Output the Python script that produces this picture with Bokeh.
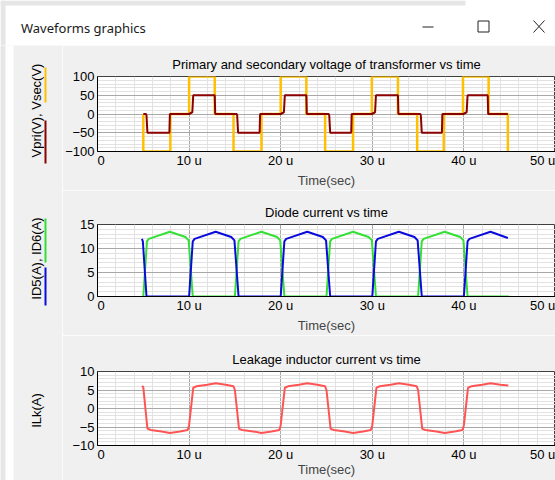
import math
from bokeh.plotting import figure
from bokeh.layouts import column, row
from bokeh.models import FixedTicker, Title
from bokeh.embed import file_html
from bokeh.resources import INLINE
from bokeh.core.properties import value

FONT = "Liberation Sans"
BG = "#f0f0f0"
OUTER = "#e6e6e6"

# ---------------- data (time in microseconds) ----------------
x_grid_ticks = [0, 10, 20, 30, 40, 50]
x_label_pos = [0.4, 10, 20, 30, 40, 48.6]
x_tick_labels = ["0", "10 u", "20 u", "30 u", "40 u", "50 u"]
x_minor = [2, 4, 6, 8, 12, 14, 16, 18, 22, 24, 26, 28, 32, 34, 36, 38, 42, 44, 46, 48]

# Vsec (yellow)
t_vsec = [5.0, 5.0, 7.95, 7.95, 10.0, 10.0, 12.8, 12.8, 14.85, 14.85, 17.9, 17.9,
          20.0, 20.0, 22.8, 22.8, 24.85, 24.85, 27.9, 27.9, 29.95, 29.95, 32.8, 32.8,
          34.9, 34.9, 37.8, 37.8, 39.9, 39.9, 42.7, 42.7, 44.8, 44.8]
v_vsec = [0, -100, -100, 0, 0, 100, 100, 0, 0, -100, -100, 0,
          0, 100, 100, 0, 0, -100, -100, 0, 0, 100, 100, 0,
          0, -100, -100, 0, 0, 100, 100, 0, 0, -100]

# Vpri (dark red)
t_vpri = [5.0, 5.3, 5.35, 5.45, 7.85, 7.9, 10.0, 10.3, 10.35, 10.45, 12.8, 12.85,
          14.85, 15.2, 15.25, 15.35, 17.7, 17.75, 20.0, 20.3, 20.35, 20.45, 22.8, 22.85,
          24.9, 25.25, 25.3, 25.4, 27.7, 27.75, 29.95, 30.25, 30.3, 30.4, 32.8, 32.85,
          34.9, 35.25, 35.3, 35.4, 37.6, 37.65, 39.95, 40.25, 40.3, 40.4, 42.6, 42.65, 44.8]
v_vpri = [0, 0, -4, -50, -50, 0, 0, 4, 4, 50, 50, 0,
          0, 0, -4, -50, -50, 0, 0, 4, 4, 50, 50, 0,
          0, 0, -4, -50, -50, 0, 0, 4, 4, 50, 50, 0,
          0, 0, -4, -50, -50, 0, 0, 4, 4, 50, 50, 0, 0]

# ID6 (green)
t_id6 = [5.0, 5.4, 5.6, 7.9, 9.6, 9.95, 10.4, 15.0, 15.4, 15.6, 17.9, 19.6, 19.95, 20.4,
         25.0, 25.4, 25.6, 27.9, 29.6, 29.95, 30.4, 35.0, 35.4, 35.6, 37.9, 39.6, 39.95, 40.4, 44.9]
v_id6 = [0, 11.5, 12.0, 13.5, 12.4, 11.7, 0, 0, 11.5, 12.0, 13.5, 12.4, 11.7, 0,
         0, 11.5, 12.0, 13.5, 12.4, 11.7, 0, 0, 11.5, 12.0, 13.5, 12.4, 11.7, 0, 0]

# ID5 (blue)
t_id5 = [4.85, 4.95, 5.35, 10.0, 10.4, 10.6, 12.9, 14.6, 14.95, 15.4, 20.0, 20.4, 20.6, 22.9,
         24.6, 24.95, 25.4, 30.0, 30.4, 30.6, 32.9, 34.6, 34.95, 35.4, 40.0, 40.4, 40.6, 42.9, 44.8]
v_id5 = [12.0, 11.5, 0, 0, 11.5, 12.0, 13.5, 12.4, 11.7, 0, 0, 11.5, 12.0, 13.5,
         12.4, 11.7, 0, 0, 11.5, 12.0, 13.5, 12.4, 11.7, 0, 0, 11.5, 12.0, 13.5, 12.2]

# ILk (light red)
t_ilk = [4.85, 5.0, 5.45, 5.8, 7.0, 7.9, 9.0, 9.85, 10.0, 10.45, 10.8, 12.0, 12.9, 14.0, 14.85, 15.0,
         15.45, 15.8, 17.0, 17.9, 19.0, 19.85, 20.0, 20.45, 20.8, 22.0, 22.9, 24.0, 24.85, 25.0,
         25.45, 25.8, 27.0, 27.9, 29.0, 29.85, 30.0, 30.45, 30.8, 32.0, 32.9, 34.0, 34.85, 35.0,
         35.45, 35.8, 37.0, 37.9, 39.0, 39.85, 40.0, 40.45, 40.8, 42.0, 42.9, 44.0, 44.85]
v_ilk = [6.1, 5.8, -5.4, -5.8, -6.2, -6.6, -6.2, -5.8, -4.5, 5.6, 6.0, 6.4, 6.8, 6.4, 6.0, 5.0,
         -5.5, -5.8, -6.2, -6.6, -6.2, -5.8, -4.5, 5.6, 6.0, 6.4, 6.8, 6.4, 6.0, 5.0,
         -5.5, -5.8, -6.2, -6.6, -6.2, -5.8, -4.5, 5.6, 6.0, 6.4, 6.8, 6.4, 6.0, 5.0,
         -5.5, -5.8, -6.2, -6.6, -6.2, -5.8, -4.5, 5.6, 6.0, 6.4, 6.8, 6.4, 6.2]

y1_ticks = [-100, -50, 0, 50, 100]
y1_minor = [-90, -80, -70, -60, -40, -30, -20, -10, 10, 20, 30, 40, 60, 70, 80, 90]
y2_ticks = [0, 5, 10, 15]
y2_minor = [1, 2, 3, 4, 6, 7, 8, 9, 11, 12, 13, 14]
y3_ticks = [-10, -5, 0, 5, 10]
y3_minor = [-9, -8, -7, -6, -4, -3, -2, -1, 1, 2, 3, 4, 6, 7, 8, 9]

titles = ["Primary and secondary voltage of transformer vs time",
          "Diode current vs time",
          "Leakage inductor current vs time"]
ylabels = ["Vpri(V), Vsec(V)", "ID5(A), ID6(A)", "ILk(A)"]
xlabel = "Time(sec)"
window_title = "Waveforms graphics"

C_VSEC = "#ffc000"
C_VPRI = "#8b0000"
C_ID6 = "#33e033"
C_ID5 = "#0a0adc"
C_ILK = "#ff5454"

W_TOTAL = 555
W_LEFT = 62
W_MAIN = W_TOTAL - W_LEFT
TB_H = 45
BODY_H = 480 - TB_H


def make_main(h, top, bottom, yr, yticks, yminor, title, label_standoff):
    p = figure(width=W_MAIN, height=h, x_range=(0, 50), y_range=yr,
               output_backend="svg", toolbar_location=None,
               min_border_left=35, min_border_right=0,
               min_border_top=top, min_border_bottom=bottom,
               background_fill_color="white", border_fill_color=BG,
               outline_line_color="#404040")
    p.add_layout(Title(text=title, align="center", text_font=FONT, text_font_size="13px",
                       text_font_style="normal", text_color="black", standoff=9), "above")
    p.xaxis.ticker = FixedTicker(ticks=x_label_pos, minor_ticks=[])
    p.xaxis.major_label_overrides = {t: l for t, l in zip(x_label_pos, x_tick_labels)}
    p.xgrid.ticker = FixedTicker(ticks=x_grid_ticks, minor_ticks=x_minor)
    p.yaxis.ticker = FixedTicker(ticks=yticks, minor_ticks=yminor)
    for ax in (p.xaxis[0], p.yaxis[0]):
        ax.major_tick_out = 0
        ax.major_tick_in = 0
        ax.minor_tick_out = 0
        ax.minor_tick_in = 0
        ax.axis_line_color = "black"
        ax.major_label_text_font = FONT
        ax.major_label_text_font_size = "13px"
        ax.major_label_text_color = "black"
    p.xaxis.major_label_standoff = 1
    p.yaxis.major_label_standoff = 3
    p.xaxis.axis_label = xlabel
    p.xaxis.axis_label_text_font = FONT
    p.xaxis.axis_label_text_font_size = "13px"
    p.xaxis.axis_label_text_font_style = "normal"
    p.xaxis.axis_label_standoff = label_standoff
    p.grid.grid_line_color = "#a8a8a8"
    p.grid.minor_grid_line_color = "#e2e2e2"
    p.grid.level = "underlay"
    return p


# left strip holding the y-axis captions and their colour keys (all three rows)
lp = figure(width=W_LEFT, height=BODY_H, x_range=(0, W_LEFT), y_range=(0, BODY_H),
            output_backend="svg", toolbar_location=None,
            x_axis_location=None, y_axis_location=None, min_border=0,
            background_fill_color=BG, border_fill_color=BG, outline_line_color=None)
lp.grid.visible = False
lp.quad(left=[0], right=[5], bottom=[0], top=[BODY_H], fill_color=OUTER, line_color=None)
lp.quad(left=[5], right=[13], bottom=[0], top=[BODY_H], fill_color="white", line_color=None)
lp.text(x=[35.5, 35.5, 35.5], y=[370, 222, 70], text=ylabels, angle=math.pi / 2,
        text_align="center", text_baseline="middle",
        text_font=value(FONT), text_font_size="13px", text_color="black")
lp.segment(x0=[45, 45, 45, 45], y0=[413, 360, 262, 213], x1=[45, 45, 45, 45], y1=[378, 317, 218, 175],
           line_color=[C_VSEC, C_VPRI, C_ID6, C_ID5], line_width=2)

# title bar of the window
tb = figure(width=W_TOTAL, height=TB_H, x_range=(0, W_TOTAL), y_range=(0, TB_H),
            output_backend="svg", toolbar_location=None,
            x_axis_location=None, y_axis_location=None, min_border=0,
            background_fill_color="white", border_fill_color="white", outline_line_color=None)
tb.grid.visible = False
tb.quad(left=[0], right=[465], bottom=[40], top=[45], fill_color=OUTER, line_color=None)
tb.quad(left=[0], right=[5], bottom=[0], top=[45], fill_color=OUTER, line_color=None)
tb.text(x=[20.5], y=[18], text=[window_title], text_align="left", text_baseline="middle",
        text_font=value("Noto Sans"), text_font_size="13px", text_color="#1a1a1a")
tb.segment(x0=[422], y0=[18.5], x1=[433], y1=[18.5], line_color="#222222", line_width=1)
tb.quad(left=[477.5], right=[488.5], bottom=[13.5], top=[24.5], fill_color=None,
        line_color="#222222", line_width=1)
tb.segment(x0=[533, 533], y0=[13, 25], x1=[544, 544], y1=[25, 13], line_color="#222222", line_width=1)

# plot 1
m1 = make_main(145, 31, 39, (-100, 100), y1_ticks, y1_minor, titles[0], 2)
m1.line(t_vsec, v_vsec, line_color=C_VSEC, line_width=2.5)
m1.line(t_vpri, v_vpri, line_color=C_VPRI, line_width=2)

# plot 2
m2 = make_main(145, 34, 38, (0, 15), y2_ticks, y2_minor, titles[1], 2)
m2.line(t_id6, v_id6, line_color=C_ID6, line_width=2)
m2.line(t_id5, v_id5, line_color=C_ID5, line_width=2)

# plot 3
m3 = make_main(145, 36, 35, (-10, 10), y3_ticks, y3_minor, titles[2], -3)
m3.line(t_ilk, v_ilk, line_color=C_ILK, line_width=2)

layout = column(tb, row(lp, column(m1, m2, m3)))

open("out.html", "w").write(file_html(layout, INLINE))
